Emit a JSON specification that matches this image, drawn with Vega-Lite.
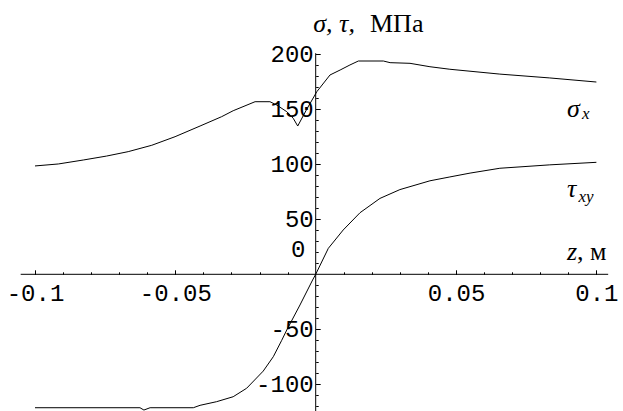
{
  "$schema": "https://vega.github.io/schema/vega-lite/v6.json",
  "width": 623,
  "height": 411,
  "autosize": "none",
  "padding": 0,
  "background": "white",
  "config": {"view": {"stroke": null}},
  "datasets": {
    "sigma": [
      {"z": -0.1, "v": 98.5},
      {"z": -0.0917, "v": 100.3},
      {"z": -0.0828, "v": 103.9},
      {"z": -0.0745, "v": 107.5},
      {"z": -0.0668, "v": 111.5},
      {"z": -0.0584, "v": 117.3},
      {"z": -0.0501, "v": 125.1},
      {"z": -0.0412, "v": 134.8},
      {"z": -0.0335, "v": 143.3},
      {"z": -0.0294, "v": 148.7},
      {"z": -0.0216, "v": 156.9},
      {"z": -0.0163, "v": 156.9},
      {"z": -0.0139, "v": 153.9},
      {"z": -0.0103, "v": 147.8},
      {"z": -0.008, "v": 141.8},
      {"z": -0.0064, "v": 134.8},
      {"z": -0.0032, "v": 150},
      {"z": 0.0004, "v": 166},
      {"z": 0.0051, "v": 181.2},
      {"z": 0.0087, "v": 185.7},
      {"z": 0.0122, "v": 190.3},
      {"z": 0.0152, "v": 193.9},
      {"z": 0.0241, "v": 193.9},
      {"z": 0.0265, "v": 192.4},
      {"z": 0.0336, "v": 191.8},
      {"z": 0.0407, "v": 188.7},
      {"z": 0.0478, "v": 186.4},
      {"z": 0.0656, "v": 182},
      {"z": 0.0834, "v": 178.5},
      {"z": 0.1, "v": 174.8}
    ],
    "tau": [
      {"z": -0.1, "v": -121.3},
      {"z": -0.0626, "v": -121.3},
      {"z": -0.0612, "v": -123.4},
      {"z": -0.059, "v": -121.3},
      {"z": -0.0436, "v": -121.3},
      {"z": -0.0412, "v": -119.1},
      {"z": -0.0353, "v": -115.8},
      {"z": -0.0294, "v": -111.3},
      {"z": -0.0246, "v": -103.6},
      {"z": -0.0187, "v": -88},
      {"z": -0.0151, "v": -74.9},
      {"z": -0.0121, "v": -60},
      {"z": -0.0103, "v": -50.6},
      {"z": -0.0056, "v": -27.9},
      {"z": -0.0011, "v": -5.2},
      {"z": 0, "v": 0},
      {"z": 0.0045, "v": 23.6},
      {"z": 0.0098, "v": 40.3},
      {"z": 0.0158, "v": 56},
      {"z": 0.0229, "v": 69},
      {"z": 0.03, "v": 77},
      {"z": 0.0407, "v": 85},
      {"z": 0.0478, "v": 88.5},
      {"z": 0.055, "v": 92},
      {"z": 0.0656, "v": 96.4},
      {"z": 0.0834, "v": 99.5},
      {"z": 0.1, "v": 101.8}
    ]
  },
  "resolve": {"axis": {"x": "independent", "y": "independent"}},
  "layer": [
    {
      "data": {"values": [
        {"x": -0.1051, "x2": 0.1042, "y": 0, "y2": 0},
        {"x": 0, "x2": 0, "y": -130, "y2": 201}
      ]},
      "mark": {"type": "rule", "color": "black", "strokeWidth": 1},
      "encoding": {
        "x": {"field": "x", "type": "quantitative", "axis": null, "scale": {"domain": [-0.11247, 0.10948], "nice": false, "zero": false}},
        "x2": {"field": "x2"},
        "y": {"field": "y", "type": "quantitative", "axis": null, "scale": {"domain": [-124.27, 249.36], "nice": false, "zero": false}},
        "y2": {"field": "y2"}
      }
    },
    {
      "data": {"name": "sigma"},
      "mark": {"type": "line", "color": "black", "strokeWidth": 1, "clip": true},
      "encoding": {
        "x": {
          "field": "z", "type": "quantitative",
          "axis": {
            "orient": "bottom", "offset": -136.7, "domain": false, "grid": false,
            "values": [-0.1, -0.05, 0.05, 0.1],
            "tickSize": -4.5, "tickColor": "black", "tickWidth": 1,
            "labelPadding": 12, "labelFont": "Liberation Mono", "labelFontSize": 24,
            "labelColor": "black", "labelExpr": "'' + datum.value",
            "labelFlush": false, "labelOverlap": false, "title": null
          }
        },
        "y": {
          "field": "v", "type": "quantitative",
          "axis": {
            "orient": "left", "offset": -315.7, "domain": false, "grid": false,
            "values": [-100, -50, 50, 100, 150, 200],
            "tickSize": -4.5, "tickColor": "black", "tickWidth": 1,
            "labelPadding": 7, "labelFont": "Liberation Mono", "labelFontSize": 24,
            "labelColor": "black", "labelExpr": "'' + datum.value",
            "labelFlush": false, "labelOverlap": false, "title": null
          }
        }
      }
    },
    {
      "data": {"name": "tau"},
      "mark": {"type": "line", "color": "black", "strokeWidth": 1, "clip": true},
      "encoding": {
        "x": {
          "field": "z", "type": "quantitative",
          "axis": {
            "orient": "bottom", "offset": -136.7, "domain": false, "grid": false,
            "values": [-0.1, -0.09, -0.08, -0.07, -0.06, -0.05, -0.04, -0.03, -0.02, -0.01, 0.01, 0.02, 0.03, 0.04, 0.05, 0.06, 0.07, 0.08, 0.09, 0.1],
            "tickSize": -2.5, "tickColor": "black", "tickWidth": 1,
            "labels": false, "title": null
          }
        },
        "y": {
          "field": "v", "type": "quantitative",
          "axis": {
            "orient": "left", "offset": -315.7, "domain": false, "grid": false,
            "values": [-120, -110, -100, -90, -80, -70, -60, -50, -40, -30, -20, -10, 10, 20, 30, 40, 50, 60, 70, 80, 90, 100, 110, 120, 130, 140, 150, 160, 170, 180, 190, 200],
            "tickSize": -2.5, "tickColor": "black", "tickWidth": 1,
            "labels": false, "title": null
          }
        }
      }
    },
    {
      "data": {"values": [{"t": "0", "x": -0.00363, "y": 22}]},
      "mark": {"type": "text", "font": "Liberation Mono", "fontSize": 24, "align": "right", "baseline": "middle", "color": "black"},
      "encoding": {
        "x": {"field": "x", "type": "quantitative", "axis": null},
        "y": {"field": "y", "type": "quantitative", "axis": null},
        "text": {"field": "t"}
      }
    },
    {
      "data": {"values": [
        {"t": "σ, τ,", "x": -0.00086, "y": 220.3},
        {"t": "σ", "x": 0.08953, "y": 143.3},
        {"t": "τ", "x": 0.08953, "y": 70},
        {"t": "z", "x": 0.08953, "y": 13}
      ]},
      "mark": {"type": "text", "font": "Liberation Serif", "fontSize": 26, "fontStyle": "italic", "align": "left", "baseline": "alphabetic", "color": "black"},
      "encoding": {
        "x": {"field": "x", "type": "quantitative", "axis": null},
        "y": {"field": "y", "type": "quantitative", "axis": null},
        "text": {"field": "t"}
      }
    },
    {
      "data": {"values": [
        {"t": "МПа", "x": 0.01934, "y": 220.3},
        {"t": ", м", "x": 0.0931, "y": 13}
      ]},
      "mark": {"type": "text", "font": "Liberation Serif", "fontSize": 26, "align": "left", "baseline": "alphabetic", "color": "black"},
      "encoding": {
        "x": {"field": "x", "type": "quantitative", "axis": null},
        "y": {"field": "y", "type": "quantitative", "axis": null},
        "text": {"field": "t"}
      }
    },
    {
      "data": {"values": [
        {"t": "x", "x": 0.09487, "y": 140.9},
        {"t": "xy", "x": 0.09362, "y": 66}
      ]},
      "mark": {"type": "text", "font": "Liberation Serif", "fontSize": 17, "fontStyle": "italic", "align": "left", "baseline": "alphabetic", "color": "black"},
      "encoding": {
        "x": {"field": "x", "type": "quantitative", "axis": null},
        "y": {"field": "y", "type": "quantitative", "axis": null},
        "text": {"field": "t"}
      }
    }
  ]
}
